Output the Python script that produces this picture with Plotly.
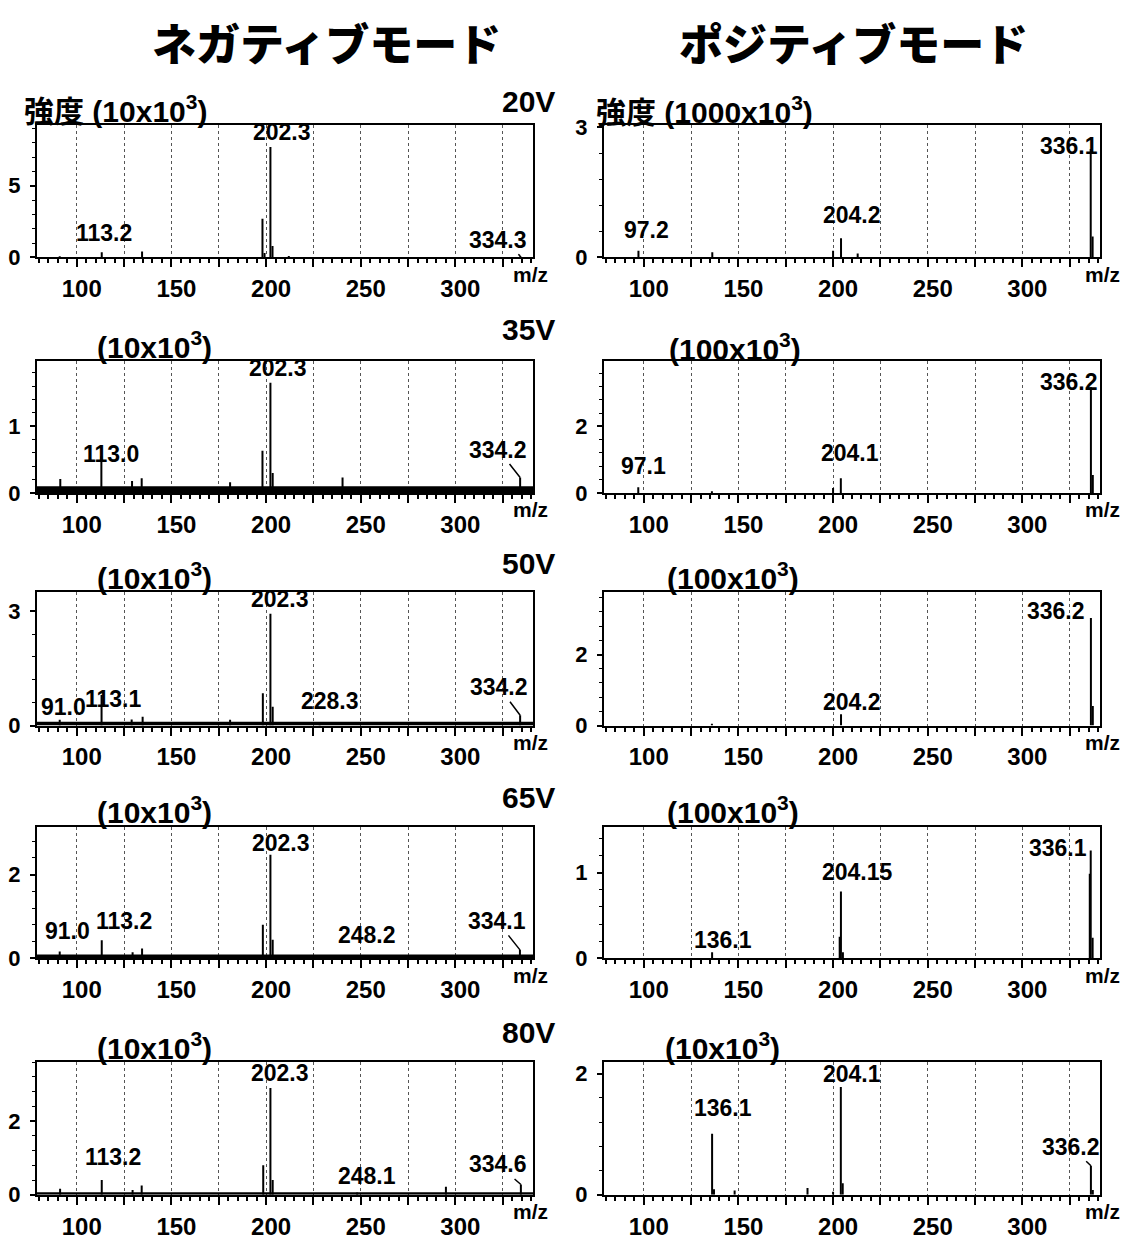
import plotly.graph_objects as go

W, H = 1121, 1248

# ------------------------------------------------------------------ data
mode_titles = ["ネガティブモード", "ポジティブモード"]
voltages = ["20V", "35V", "50V", "65V", "80V"]

neg_units = ["強度 (10x10<sup>3</sup>)", "(10x10<sup>3</sup>)", "(10x10<sup>3</sup>)",
             "(10x10<sup>3</sup>)", "(10x10<sup>3</sup>)"]
pos_units = ["強度 (1000x10<sup>3</sup>)", "(100x10<sup>3</sup>)", "(100x10<sup>3</sup>)",
             "(100x10<sup>3</sup>)", "(10x10<sup>3</sup>)"]

x_tick_values = [100, 125, 150, 175, 200, 225, 250, 275, 300, 325]
x_tick_labels = ["100", " ", "150", " ", "200", " ", "250", " ", "300", " "]
mz_span = [79, 341]

neg_ymax = [9.25, 1.97, 3.5, 3.15, 3.6]
pos_ymax = [3.06, 3.95, 3.76, 1.54, 2.19]
neg_yticks = [[0, 5], [0, 1], [0, 3], [0, 2], [0, 2]]
pos_yticks = [[0, 3], [0, 2], [0, 2], [0, 1], [0, 2]]
neg_noise = [0.03, 0.10, 0.10, 0.09, 0.07]
pos_noise = [0.0, 0.0, 0.0, 0.0, 0.0]

# negative mode
neg20_mz = [91.0, 113.2, 134.5, 198.1, 199.2, 202.3, 203.4, 212.0, 334.3]
neg20_int = [0.08, 0.35, 0.40, 2.70, 0.30, 7.70, 0.80, 0.10, 0.10]
neg20_lab = ["113.2", "202.3", "334.3"]

neg35_mz = [91.3, 113.0, 129.2, 134.3, 181.0, 198.1, 202.3, 203.5, 240.4, 334.2]
neg35_int = [0.21, 0.55, 0.18, 0.22, 0.16, 0.63, 1.65, 0.30, 0.23, 0.23]
neg35_lab = ["113.0", "202.3", "334.2"]

neg50_mz = [91.0, 113.1, 129.0, 134.8, 181.0, 198.3, 202.3, 203.5, 228.3, 334.2]
neg50_int = [0.15, 0.80, 0.16, 0.23, 0.15, 0.85, 2.93, 0.49, 0.09, 0.27]
neg50_lab = ["91.0", "113.1", "202.3", "228.3", "334.2"]

neg65_mz = [91.0, 113.2, 129.5, 134.5, 198.3, 202.3, 203.5, 248.2, 334.1]
neg65_int = [0.16, 0.43, 0.14, 0.23, 0.80, 2.48, 0.44, 0.06, 0.20]
neg65_lab = ["91.0", "113.2", "202.3", "248.2", "334.1"]

neg80_mz = [91.2, 113.2, 129.5, 134.3, 198.5, 202.3, 203.5, 248.1, 295.0, 334.6]
neg80_int = [0.16, 0.40, 0.13, 0.25, 0.80, 2.90, 0.40, 0.06, 0.22, 0.28]
neg80_lab = ["113.2", "202.3", "248.1", "334.6"]

# positive mode
pos20_mz = [97.2, 136.2, 200.0, 204.2, 213.0, 336.1, 337.1]
pos20_int = [0.15, 0.12, 0.15, 0.44, 0.09, 2.50, 0.48]
pos20_lab = ["97.2", "204.2", "336.1"]

pos35_mz = [97.1, 136.0, 200.0, 204.1, 336.2, 337.2]
pos35_int = [0.17, 0.05, 0.15, 0.44, 3.17, 0.54]
pos35_lab = ["97.1", "204.1", "336.2"]

pos50_mz = [136.0, 204.2, 336.2, 337.2]
pos50_int = [0.05, 0.32, 3.03, 0.55]
pos50_lab = ["204.2", "336.2"]

pos65_mz = [136.1, 203.5, 204.15, 205.2, 335.6, 336.1, 337.1]
pos65_int = [0.07, 0.25, 0.78, 0.07, 0.99, 1.26, 0.24]
pos65_lab = ["136.1", "204.15", "336.1"]

pos80_mz = [136.1, 137.1, 148.0, 186.5, 200.0, 204.1, 205.1, 336.2, 337.2]
pos80_int = [1.01, 0.09, 0.07, 0.11, 0.05, 1.78, 0.19, 0.48, 0.08]
pos80_lab = ["136.1", "204.1", "336.2"]

neg_peaks = [(neg20_mz, neg20_int, neg20_lab), (neg35_mz, neg35_int, neg35_lab),
             (neg50_mz, neg50_int, neg50_lab), (neg65_mz, neg65_int, neg65_lab),
             (neg80_mz, neg80_int, neg80_lab)]
pos_peaks = [(pos20_mz, pos20_int, pos20_lab), (pos35_mz, pos35_int, pos35_lab),
             (pos50_mz, pos50_int, pos50_lab), (pos65_mz, pos65_int, pos65_lab),
             (pos80_mz, pos80_int, pos80_lab)]

PEAKS = [neg_peaks, pos_peaks]
YMAX = [neg_ymax, pos_ymax]
YTICKS = [neg_yticks, pos_yticks]
NOISE = [neg_noise, pos_noise]
UNITS = [neg_units, pos_units]

# ------------------------------------------------------------------ layout / style
COL_X = [(37, 533), (604, 1100)]                       # px
ROW_Y = [(117, 252), (358, 492), (593, 729), (832, 966), (1072, 1207)]  # px (top, bottom)

# label placement: (dx, dy, kind)  kind b=above, m=left-middle, a=leader arrow
LABEL_STYLE = {
    (0, 0, "113.2"): (2, 4, "b"), (0, 0, "202.3"): (12, 0, "b"), (0, 0, "334.3"): (-22, -16, "a"),
    (0, 1, "113.0"): (10, -13, "b"), (0, 1, "202.3"): (8, 0, "b"), (0, 1, "334.2"): (-22, -28, "a"),
    (0, 2, "91.0"): (4, -2, "b"), (0, 2, "113.1"): (11, -19, "b"), (0, 2, "202.3"): (10, 0, "b"),
    (0, 2, "228.3"): (10, 6, "b"), (0, 2, "334.2"): (-21, -28, "a"),
    (0, 3, "91.0"): (8, 6, "b"), (0, 3, "113.2"): (22, 4, "b"), (0, 3, "202.3"): (11, -3, "b"),
    (0, 3, "248.2"): (10, 6, "b"), (0, 3, "334.1"): (-23, -29, "a"),
    (0, 4, "113.2"): (11, 8, "b"), (0, 4, "202.3"): (10, 0, "b"), (0, 4, "248.1"): (10, 2, "b"),
    (0, 4, "334.6"): (-23, -20, "a"),
    (1, 0, "97.2"): (8, 6, "b"), (1, 0, "204.2"): (11, 8, "b"), (1, 0, "336.1"): (-22, 3, "m"),
    (1, 1, "97.1"): (5, 6, "b"), (1, 1, "204.1"): (9, 10, "b"), (1, 1, "336.2"): (-22, 5, "m"),
    (1, 2, "204.2"): (11, -3, "b"), (1, 2, "336.2"): (-35, 7, "m"),
    (1, 3, "136.1"): (11, -3, "b"), (1, 3, "204.15"): (17, 5, "b"), (1, 3, "336.1"): (-33, 3, "m"),
    (1, 4, "136.1"): (11, 11, "b"), (1, 4, "204.1"): (11, -2, "b"), (1, 4, "336.2"): (-20, -19, "a"),
}

HEAD_POS = [
    [(22, 101), (95, 341), (95, 577), (95, 815), (95, 1055)],
    [(594, 102), (667, 343), (665, 577), (665, 815), (663, 1055)],
]
VOLT_POS = [(528, 93), (528, 326), (528, 564), (528, 802), (528, 1042)]
TITLE_POS = [(326, 33), (853, 33)]

SANS = "Liberation Sans Narrow, Liberation Sans, Arial, sans-serif"
LABEL_FONT = dict(family=SANS, size=23, color="black", weight="bold")
MZ_FONT = dict(family=SANS, size=21, color="black", weight="bold")
XTICK_FONT = dict(family=SANS, size=24, color="black", weight="bold")
YTICK_FONT = dict(family=SANS, size=22, color="black", weight="bold")
HEAD_FONT = dict(family="Liberation Sans, Noto Sans CJK JP, sans-serif", size=30,
                 color="black", weight="bold")
VOLT_FONT = dict(family="Liberation Sans, Arial, sans-serif", size=30, color="black", weight="bold")
TITLE_FONT = dict(family="Noto Sans CJK JP, sans-serif", size=44, color="black", weight=900)

fig = go.Figure()
layout = dict(width=W, height=H, autosize=False, margin=dict(l=0, r=0, t=0, b=0),
              paper_bgcolor="white", plot_bgcolor="white", showlegend=False)
annotations = []

for c in range(2):
    for r in range(5):
        k = r * 2 + c + 1
        sfx = "" if k == 1 else str(k)
        xname, yname = "x" + sfx, "y" + sfx
        mz, inten, labels = PEAKS[c][r]
        x0, x1 = COL_X[c]
        yt, yb = ROW_Y[r]

        layout["xaxis" + sfx] = dict(
            domain=[x0 / W, x1 / W], anchor=yname, range=mz_span,
            tickmode="array", tickvals=x_tick_values, ticktext=x_tick_labels,
            ticks="outside", ticklen=8, tickwidth=2, tickcolor="black",
            tickfont=XTICK_FONT, ticklabelshift=5, ticklabelstandoff=1,
            showgrid=True, griddash="dot", gridcolor="#555555", gridwidth=1,
            minor=dict(dtick=5, tick0=0, ticks="outside", ticklen=4, tickwidth=1.5,
                       tickcolor="black", showgrid=False),
            showline=True, linewidth=2, linecolor="black", mirror=True, zeroline=False,
        )
        yt_vals = YTICKS[c][r]
        layout["yaxis" + sfx] = dict(
            domain=[1 - yb / H, 1 - yt / H], anchor=xname, range=[0, YMAX[c][r]],
            tickmode="array", tickvals=yt_vals, ticktext=[str(v) for v in yt_vals],
            ticks="outside", ticklen=5, tickwidth=2, tickcolor="black",
            tickfont=YTICK_FONT, ticklabelstandoff=5, showgrid=False,
            minor=dict(dtick=yt_vals[1] / 5, tick0=0, ticks="outside", ticklen=3,
                       tickwidth=1, tickcolor="black"),
            showline=True, linewidth=2, linecolor="black", mirror=True, zeroline=False,
        )

        noise = NOISE[c][r]
        if noise > 0:
            fig.add_trace(go.Scatter(x=mz_span, y=[noise, noise], mode="lines", fill="tozeroy",
                                     fillcolor="black", line=dict(width=0, color="black"),
                                     xaxis=xname, yaxis=yname, hoverinfo="skip"))
        xs, ys = [], []
        for m, h in zip(mz, inten):
            xs += [m, m, None]
            ys += [0, h, None]
        fig.add_trace(go.Scatter(x=xs, y=ys, mode="lines", line=dict(color="black", width=2),
                                 xaxis=xname, yaxis=yname, hoverinfo="skip"))

        for text in labels:
            m = float(text)
            h = inten[mz.index(m)]
            dx, dy, kind = LABEL_STYLE[(c, r, text)]
            base = dict(x=m, y=h, xref=xname, yref=yname, text=text, font=LABEL_FONT)
            if kind == "b":
                base.update(showarrow=False, xanchor="center", yanchor="bottom", xshift=dx, yshift=dy)
            elif kind == "m":
                base.update(showarrow=False, xanchor="center", yanchor="middle", xshift=dx, yshift=dy)
            else:
                base.update(showarrow=True, arrowhead=0, arrowwidth=1.5, arrowcolor="black",
                            ax=dx, ay=dy, standoff=0)
            annotations.append(base)

        # m/z axis caption
        annotations.append(dict(x=1, y=0, xref=xname + " domain", yref=yname + " domain",
                                text="m/z", showarrow=False, xanchor="center", yanchor="middle",
                                xshift=-3 if c == 0 else 2, yshift=-17, font=MZ_FONT))
        # unit header
        hx, hy = HEAD_POS[c][r]
        annotations.append(dict(x=hx / W, y=1 - hy / H, xref="paper", yref="paper",
                                text=UNITS[c][r], showarrow=False, xanchor="left",
                                yanchor="middle", font=HEAD_FONT))

for r in range(5):
    vx, vy = VOLT_POS[r]
    annotations.append(dict(x=vx / W, y=1 - vy / H, xref="paper", yref="paper",
                            text=voltages[r], showarrow=False, xanchor="center",
                            yanchor="middle", font=VOLT_FONT))
for c in range(2):
    tx, ty = TITLE_POS[c]
    annotations.append(dict(x=tx / W, y=1 - ty / H, xref="paper", yref="paper",
                            text=mode_titles[c], showarrow=False, xanchor="center",
                            yanchor="middle", font=TITLE_FONT))

layout["annotations"] = annotations
fig.update_layout(**layout)
fig.write_html("out.html", config={"displayModeBar": False},
               post_script="document.body.style.margin='0px';")
